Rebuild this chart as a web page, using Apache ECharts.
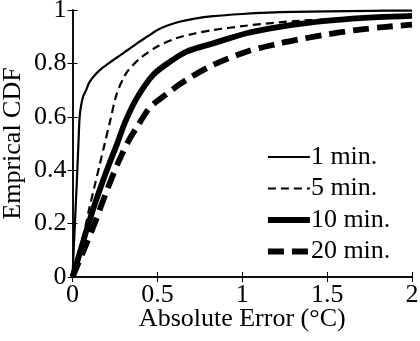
<!DOCTYPE html>
<html>
<head>
<meta charset="utf-8">
<script src="https://cdn.jsdelivr.net/npm/echarts@6/dist/echarts.min.js"></script>
<style>html,body{margin:0;padding:0;background:#fff;}#c{width:420px;height:341px;}</style>
</head>
<body>
<div id="c"></div>
<script>
var seriesNames = ['1 min.', '5 min.', '10 min.', '20 min.'];
var xTickLabels = ['0', '0.5', '1', '1.5', '2'];
var yTickLabels = ['0', '0.2', '0.4', '0.6', '0.8', '1'];

var x1 = [0, 0.012, 0.025, 0.035, 0.042, 0.05, 0.062, 0.08, 0.1, 0.14, 0.18, 0.23, 0.28, 0.33, 0.38, 0.44, 0.5, 0.56, 0.63, 0.72, 0.83, 1.0, 1.15, 1.3, 1.5, 1.75, 2.0];
var y1 = [0, 0.17, 0.35, 0.5, 0.6, 0.64, 0.675, 0.7, 0.73, 0.762, 0.785, 0.808, 0.83, 0.852, 0.875, 0.9, 0.925, 0.942, 0.956, 0.968, 0.977, 0.985, 0.99, 0.993, 0.995, 0.997, 0.998];

var x5 = [0, 0.05, 0.08, 0.1, 0.13, 0.16, 0.19, 0.22, 0.26, 0.3, 0.33, 0.4, 0.5, 0.61, 0.72, 0.83, 1.02, 1.22, 1.4, 1.6, 1.8, 2.0];
var y5 = [0, 0.12, 0.2, 0.26, 0.34, 0.42, 0.5, 0.58, 0.685, 0.745, 0.775, 0.82, 0.863, 0.894, 0.912, 0.925, 0.941, 0.954, 0.962, 0.968, 0.972, 0.975];

var x10 = [0, 0.025, 0.083, 0.13, 0.181, 0.22, 0.26, 0.31, 0.378, 0.475, 0.574, 0.672, 0.828, 1.025, 1.22, 1.4, 1.6, 1.8, 2.0];
var y10 = [0, 0.052, 0.176, 0.27, 0.363, 0.43, 0.494, 0.58, 0.669, 0.757, 0.806, 0.844, 0.875, 0.913, 0.937, 0.953, 0.965, 0.973, 0.978];

var x20 = [0, 0.05, 0.13, 0.2, 0.27, 0.33, 0.378, 0.456, 0.554, 0.632, 0.69, 0.828, 1.025, 1.22, 1.32, 1.475, 1.67, 1.83, 2.0];
var y20 = [0, 0.075, 0.2, 0.32, 0.43, 0.51, 0.56, 0.635, 0.685, 0.722, 0.746, 0.794, 0.844, 0.875, 0.888, 0.906, 0.925, 0.936, 0.945];

function pairs(xs, ys) { return xs.map(function (v, i) { return [v, ys[i]]; }); }

var FONT = 'Liberation Serif';
var chart = echarts.init(document.getElementById('c'), null, {renderer: 'canvas'});

var axisLine = {show: true, lineStyle: {color: '#000', width: 1.5}};
var tick = {show: true, inside: true, length: 5, lineStyle: {color: '#000', width: 1}};

var styles = [
  {width: 2.2, type: 'solid'},
  {width: 2.2, type: [8, 5]},
  {width: 5.8, type: 'solid'},
  {width: 5.8, type: [16, 8]}
];
var seriesData = [pairs(x1, y1), pairs(x5, y5), pairs(x10, y10), pairs(x20, y20)];

chart.setOption({
  animation: false,
  backgroundColor: '#fff',
  grid: {left: 72.5, right: 8, top: 10, bottom: 64, containLabel: false, outerBoundsMode: 'none'},
  legend: {
    data: seriesNames.map(function (n, i) {
      return {name: n, itemStyle: {opacity: 0}, lineStyle: {color: '#000', width: styles[i].width, type: styles[i].type, opacity: 1}};
    }),
    orient: 'vertical',
    left: 265,
    top: 144,
    itemWidth: 42,
    itemHeight: 26,
    itemGap: 5.5,
    padding: 0,
    itemStyle: {opacity: 0},
    textStyle: {fontFamily: FONT, fontSize: 26, color: '#000', padding: [0, 0, 0, -4]}
  },
  xAxis: [{
    type: 'value', min: 0, max: 2, interval: 0.5, position: 'bottom',
    name: 'Absolute Error (\u00B0C)', nameLocation: 'middle', nameGap: 29, nameMoveOverlap: false,
    nameTextStyle: {fontFamily: FONT, fontSize: 26, color: '#000'},
    axisLine: axisLine, axisTick: tick, splitLine: {show: false},
    axisLabel: {fontFamily: FONT, fontSize: 26, color: '#000', margin: 5,
      formatter: function (v) { return xTickLabels[Math.round(v / 0.5)]; }}
  }, {
    type: 'value', min: 0, max: 2, interval: 0.5, position: 'top',
    axisLine: axisLine, axisTick: tick, axisLabel: {show: false}, splitLine: {show: false}
  }],
  yAxis: [{
    type: 'value', min: 0, max: 1, interval: 0.2, position: 'left',
    name: 'Emprical CDF', nameLocation: 'middle', nameGap: 46, nameMoveOverlap: false,
    nameTextStyle: {fontFamily: FONT, fontSize: 26, color: '#000'},
    axisLine: axisLine, axisTick: tick, splitLine: {show: false},
    axisLabel: {fontFamily: FONT, fontSize: 26, color: '#000', margin: 6,
      formatter: function (v) { return yTickLabels[Math.round(v / 0.2)]; }}
  }, {
    type: 'value', min: 0, max: 1, interval: 0.2, position: 'right',
    axisLine: axisLine, axisTick: tick, axisLabel: {show: false}, splitLine: {show: false}
  }],
  series: seriesNames.map(function (n, i) {
    return {name: n, type: 'line', data: seriesData[i], showSymbol: false, symbol: 'none',
      smooth: 0.3, lineStyle: {color: '#000', width: styles[i].width, type: styles[i].type},
      itemStyle: {color: '#000'}};
  })
});
</script>
</body>
</html>
